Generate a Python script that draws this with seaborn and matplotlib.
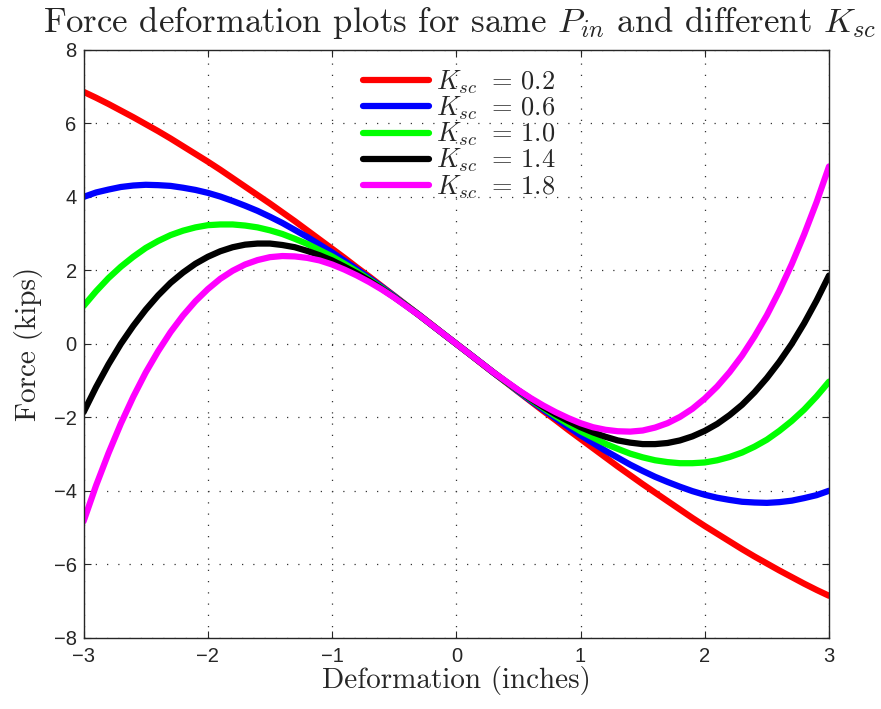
import matplotlib
matplotlib.use('Agg')
import matplotlib.pyplot as plt
import seaborn as sns

# deformation (inches), sampled every 0.1
deform = [round(-3.0 + 0.1 * i, 1) for i in range(61)]

# force (kips), left to right
f_02 = [6.86, 6.70, 6.53, 6.35, 6.17, 5.98, 5.79, 5.59, 5.38, 5.17,
        4.96, 4.74, 4.51, 4.28, 4.05, 3.82, 3.58, 3.34, 3.09, 2.84,
        2.59, 2.34, 2.08, 1.83, 1.57, 1.31, 1.05, 0.79, 0.53, 0.26,
        0.0,
        -0.26, -0.53, -0.79, -1.05, -1.31, -1.57, -1.83, -2.08, -2.34, -2.59,
        -2.84, -3.09, -3.34, -3.58, -3.82, -4.05, -4.28, -4.51, -4.74, -4.96,
        -5.17, -5.38, -5.59, -5.79, -5.98, -6.17, -6.35, -6.53, -6.70, -6.86]
f_06 = [4.00, 4.12, 4.20, 4.27, 4.31, 4.33, 4.32, 4.30, 4.25, 4.19,
        4.11, 4.01, 3.89, 3.76, 3.62, 3.46, 3.29, 3.10, 2.91, 2.70,
        2.49, 2.26, 2.03, 1.79, 1.55, 1.30, 1.04, 0.79, 0.52, 0.26,
        0.0,
        -0.26, -0.52, -0.79, -1.04, -1.30, -1.55, -1.79, -2.03, -2.26, -2.49,
        -2.70, -2.91, -3.10, -3.29, -3.46, -3.62, -3.76, -3.89, -4.01, -4.11,
        -4.19, -4.25, -4.30, -4.32, -4.33, -4.31, -4.27, -4.20, -4.12, -4.00]
f_10 = [1.03, 1.43, 1.79, 2.10, 2.37, 2.61, 2.80, 2.96, 3.08, 3.17,
        3.23, 3.25, 3.25, 3.22, 3.17, 3.09, 2.99, 2.86, 2.72, 2.55,
        2.38, 2.18, 1.97, 1.75, 1.52, 1.28, 1.04, 0.78, 0.52, 0.26,
        0.0,
        -0.26, -0.52, -0.78, -1.04, -1.28, -1.52, -1.75, -1.97, -2.18, -2.38,
        -2.55, -2.72, -2.86, -2.99, -3.09, -3.17, -3.22, -3.25, -3.25, -3.23,
        -3.17, -3.08, -2.96, -2.80, -2.61, -2.37, -2.10, -1.79, -1.43, -1.03]
f_14 = [-1.86, -1.18, -0.56, 0.00, 0.49, 0.93, 1.32, 1.66, 1.94, 2.18,
        2.37, 2.52, 2.63, 2.70, 2.73, 2.73, 2.69, 2.63, 2.53, 2.41,
        2.27, 2.10, 1.92, 1.72, 1.50, 1.27, 1.03, 0.78, 0.52, 0.26,
        0.0,
        -0.26, -0.52, -0.78, -1.03, -1.27, -1.50, -1.72, -1.92, -2.10, -2.27,
        -2.41, -2.53, -2.63, -2.69, -2.73, -2.73, -2.70, -2.63, -2.52, -2.37,
        -2.18, -1.94, -1.66, -1.32, -0.93, -0.49, 0.00, 0.56, 1.18, 1.86]
f_18 = [-4.83, -3.86, -2.98, -2.17, -1.44, -0.78, -0.20, 0.32, 0.77, 1.16,
        1.49, 1.77, 1.99, 2.16, 2.28, 2.36, 2.39, 2.38, 2.34, 2.27,
        2.16, 2.02, 1.86, 1.68, 1.48, 1.26, 1.02, 0.78, 0.52, 0.26,
        0.0,
        -0.26, -0.52, -0.78, -1.02, -1.26, -1.48, -1.68, -1.86, -2.02, -2.16,
        -2.27, -2.34, -2.38, -2.39, -2.36, -2.28, -2.16, -1.99, -1.77, -1.49,
        -1.16, -0.77, -0.32, 0.20, 0.78, 1.44, 2.17, 2.98, 3.86, 4.83]

ksc_labels = ['0.2', '0.6', '1.0', '1.4', '1.8']
colors = ['#ff0000', '#0000ff', '#00ff00', '#000000', '#ff00ff']

sns.set_style('ticks')
plt.rcParams['font.family'] = ['Liberation Sans', 'DejaVu Sans']
plt.rcParams['mathtext.fontset'] = 'cm'
plt.rcParams['axes.unicode_minus'] = True

fig = plt.figure(figsize=(8.81, 7.09), dpi=100)
ax = fig.add_axes([0.0949, 0.1006, 0.8461, 0.8289])

for vals, lab, col in zip([f_02, f_06, f_10, f_14, f_18], ksc_labels, colors):
    sns.lineplot(x=deform, y=vals, color=col, lw=4.5, ax=ax,
                 label=r'$K_{sc}\;\,=\,' + lab + '$')

ax.set_xlim(-3, 3)
ax.set_ylim(-8, 8)
ax.set_xticks(range(-3, 4))
ax.set_yticks(range(-8, 9, 2))
ax.grid(True, color='#333333', linestyle=(0, (1, 8)), linewidth=0.9)
ax.tick_params(direction='in', top=True, right=True, labelsize=14.5, length=5, width=0.8)
ax.tick_params(axis='x', pad=7)
ax.tick_params(axis='y', pad=5)
for s in ax.spines.values():
    s.set_linewidth(1.0)

ax.set_title(r'Force deformation plots for same $P_{in}$ and different $K_{sc}$',
             fontfamily='cmr10', fontsize=25, pad=13, x=0.504)
ax.set_xlabel('Deformation (inches)', fontfamily='cmr10', fontsize=21, labelpad=0)
ax.set_ylabel('Force (kips)', fontfamily='cmr10', fontsize=21, labelpad=8)

leg = ax.legend(loc='upper left', bbox_to_anchor=(0.35, 1.0), frameon=False,
                fontsize=19, labelspacing=-0.05,
                handlelength=2.5, handletextpad=0.25, borderaxespad=0.3)

fig.savefig('out.png', dpi=100)
